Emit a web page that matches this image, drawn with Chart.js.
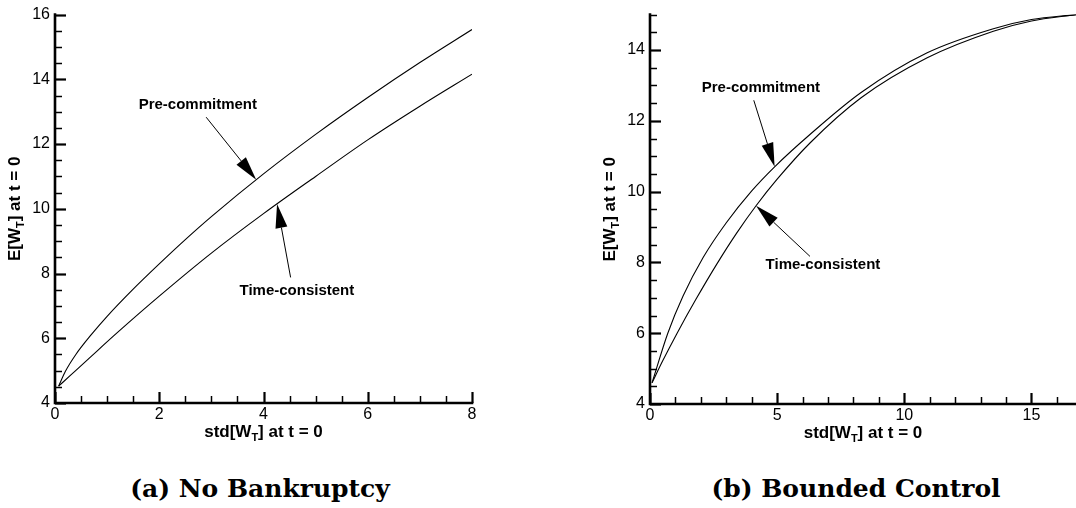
<!DOCTYPE html>
<html>
<head>
<meta charset="utf-8">
<script src="https://cdn.jsdelivr.net/npm/chart.js@4.4.1/dist/chart.umd.min.js"></script>
<style>
  body { margin: 0; background: #fff; width: 1076px; height: 508px; overflow: hidden; position: relative; }
  canvas { position: absolute; top: 0; }
  #chartA { left: 0; }
  #chartB { left: 595px; }
  .caption { position: absolute; top: 474px; width: 440px; text-align: center; font: bold 25px "DejaVu Serif", serif; color: #000; }
</style>
</head>
<body>
<canvas id="chartA" width="540" height="445"></canvas>
<canvas id="chartB" width="481" height="445"></canvas>
<div class="caption" style="left:40px">(a) No Bankruptcy</div>
<div class="caption" style="left:636px">(b) Bounded Control</div>

<script>
// (a) no bankruptcy: std[W_T] vs E[W_T]
var stdPreA  = [0.07, 0.2, 0.4, 0.7, 1.0, 1.5, 2.0, 2.5, 3.0, 4.0, 5.0, 6.0, 7.0, 8.0];
var meanPreA = [4.52, 4.98, 5.5, 6.12, 6.68, 7.52, 8.3, 9.05, 9.76, 11.08, 12.3, 13.44, 14.52, 15.54];
var stdTcA   = [0.07, 0.3, 0.7, 1.2, 2.0, 3.0, 4.0, 5.0, 6.0, 7.0, 8.0];
var meanTcA  = [4.52, 4.86, 5.45, 6.18, 7.3, 8.63, 9.85, 11.0, 12.13, 13.17, 14.16];

// (b) bounded control
var stdPreB  = [0.08, 0.7, 1.3, 2.1, 3.0, 4.0, 4.9, 6.3, 8.3, 10.9, 13.5, 15.0, 16.75];
var meanPreB = [4.6, 6.0, 7.05, 8.15, 9.12, 10.02, 10.7, 11.62, 12.8, 13.92, 14.6, 14.86, 15.0];
var stdTcB   = [0.08, 0.5, 1.05, 1.8, 2.65, 3.4, 4.17, 5.0, 6.3, 8.3, 10.9, 13.5, 15.0, 16.75];
var meanTcB  = [4.6, 5.22, 5.98, 6.95, 7.98, 8.82, 9.6, 10.35, 11.38, 12.65, 13.78, 14.53, 14.82, 15.0];

// tick labels
var xTicksA = [0, 2, 4, 6, 8];
var yTicksA = [4, 6, 8, 10, 12, 14, 16];
var xTicksB = [0, 5, 10, 15];
var yTicksB = [4, 6, 8, 10, 12, 14];

var seriesNames = ["Pre-commitment", "Time-consistent"];

var tickFont = { family: "'Liberation Sans', Arial, sans-serif", size: 16 };

function toPoints(xs, ys) {
    return xs.map(function (x, i) { return { x: x, y: ys[i] }; });
}

// text with a subscript piece, e.g. E[W_T]
function drawRich(ctx, parts, cx, cy, rot) {
    var big = "bold 17px 'Liberation Sans', Arial, sans-serif";
    var small = "bold 11px 'Liberation Sans', Arial, sans-serif";
    ctx.save();
    ctx.translate(cx, cy);
    ctx.rotate(rot);
    var w = 0;
    parts.forEach(function (p) { ctx.font = p[1] ? small : big; w += ctx.measureText(p[0]).width; });
    var x = -w / 2;
    ctx.fillStyle = "#000";
    ctx.textBaseline = "middle";
    ctx.textAlign = "left";
    parts.forEach(function (p) {
        ctx.font = p[1] ? small : big;
        ctx.fillText(p[0], x, p[1] ? 6 : 0);
        x += ctx.measureText(p[0]).width;
    });
    ctx.restore();
}

// axis lines plus inward major/minor ticks and the axis titles
var frame = {
    id: "frame",
    afterDraw: function (chart) {
        var o = chart.options.plugins.frame;
        var ctx = chart.ctx, a = chart.chartArea, xs = chart.scales.x, ys = chart.scales.y;
        var xMajor = o.xMajor.slice(), yMajor = o.yMajor.slice();
        ctx.save();
        ctx.strokeStyle = "#000";
        ctx.lineCap = "butt";
        var v, px, maj;
        for (v = xs.min; v <= xs.max + 1e-9; v += o.xMinor) {
            px = Math.round(xs.getPixelForValue(v)) + 0.5;
            maj = xMajor.indexOf(Math.round(v * 100) / 100) >= 0;
            ctx.lineWidth = maj ? 2.2 : 1.5;
            ctx.beginPath();
            ctx.moveTo(px, a.bottom);
            ctx.lineTo(px, a.bottom - (maj ? 11 : 7));
            ctx.stroke();
        }
        for (v = ys.min; v <= ys.max + 1e-9; v += o.yMinor) {
            px = Math.round(ys.getPixelForValue(v)) + 0.5;
            maj = yMajor.indexOf(Math.round(v * 100) / 100) >= 0;
            ctx.lineWidth = maj ? 2.2 : 1.5;
            ctx.beginPath();
            ctx.moveTo(a.left, px);
            ctx.lineTo(a.left + (maj ? 11 : 7), px);
            ctx.stroke();
        }
        ctx.lineWidth = 2.6;
        ctx.lineCap = "square";
        ctx.beginPath();
        ctx.moveTo(a.left, a.top);
        ctx.lineTo(a.left, a.bottom);
        ctx.lineTo(a.right, a.bottom);
        ctx.stroke();
        ctx.restore();

        drawRich(ctx, [["std[W", false], ["T", true], ["] at t = 0", false]],
            (a.left + a.right) / 2, a.bottom + 29, 0);
        drawRich(ctx, [["E[W", false], ["T", true], ["] at t = 0", false]],
            15, (a.top + a.bottom) / 2, -Math.PI / 2);
    }
};

// labelled arrows pointing at the curves
var callouts = {
    id: "callouts",
    afterDatasetsDraw: function (chart) {
        var list = chart.options.plugins.callouts.items;
        var ctx = chart.ctx, xs = chart.scales.x, ys = chart.scales.y;
        ctx.save();
        list.forEach(function (c) {
            var tx = xs.getPixelForValue(c.tail[0]), ty = ys.getPixelForValue(c.tail[1]);
            var hx = xs.getPixelForValue(c.tip[0]), hy = ys.getPixelForValue(c.tip[1]);
            var dx = hx - tx, dy = hy - ty, len = Math.sqrt(dx * dx + dy * dy);
            var ux = dx / len, uy = dy / len, L = 24, W = 6;
            ctx.strokeStyle = "#000";
            ctx.fillStyle = "#000";
            ctx.lineWidth = 1;
            ctx.beginPath();
            ctx.moveTo(tx, ty);
            ctx.lineTo(hx - ux * L, hy - uy * L);
            ctx.stroke();
            ctx.beginPath();
            ctx.moveTo(hx, hy);
            ctx.lineTo(hx - ux * L - uy * W, hy - uy * L + ux * W);
            ctx.lineTo(hx - ux * L + uy * W, hy - uy * L - ux * W);
            ctx.closePath();
            ctx.fill();

            ctx.font = "bold 15px 'Liberation Sans', Arial, sans-serif";
            ctx.textAlign = "center";
            ctx.textBaseline = "middle";
            ctx.fillText(c.text, xs.getPixelForValue(c.at[0]), ys.getPixelForValue(c.at[1]));
        });
        ctx.restore();
    }
};

function makeChart(id, cfg) {
    var canvas = document.getElementById(id).getContext("2d");
    return new Chart(canvas, {
        type: "scatter",
        data: {
            datasets: [
                { label: seriesNames[0], data: toPoints(cfg.preX, cfg.preY) },
                { label: seriesNames[1], data: toPoints(cfg.tcX, cfg.tcY) }
            ]
        },
        options: {
            responsive: false,
            animation: false,
            showLine: true,
            layout: { padding: { top: 11, right: cfg.padRight, left: 0, bottom: 0 } },
            elements: {
                point: { radius: 0, hoverRadius: 0 },
                line: { borderColor: "#000", borderWidth: 1.1, cubicInterpolationMode: "monotone", fill: false }
            },
            plugins: {
                legend: { display: false },
                tooltip: { enabled: false },
                frame: { xMinor: cfg.xMinor, yMinor: 0.5, xMajor: cfg.xTicks, yMajor: cfg.yTicks },
                callouts: { items: cfg.callouts }
            },
            scales: {
                x: {
                    type: "linear", min: 0, max: cfg.xMax,
                    grid: { display: false, drawTicks: false },
                    border: { display: false },
                    ticks: { color: "#000", font: tickFont, padding: 2, maxRotation: 0 },
                    afterBuildTicks: function (s) { s.ticks = cfg.xTicks.map(function (v) { return { value: v }; }); },
                    afterFit: function (s) { s.height = 445 - cfg.bottom; }
                },
                y: {
                    type: "linear", min: 4, max: cfg.yMax,
                    grid: { display: false, drawTicks: false },
                    border: { display: false },
                    ticks: { color: "#000", font: tickFont, padding: 5 },
                    afterBuildTicks: function (s) { s.ticks = cfg.yTicks.map(function (v) { return { value: v }; }); },
                    afterFit: function (s) { s.width = 55; }
                }
            }
        },
        plugins: [frame, callouts]
    });
}

makeChart("chartA", {
    preX: stdPreA, preY: meanPreA, tcX: stdTcA, tcY: meanTcA,
    xTicks: xTicksA, yTicks: yTicksA, xMinor: 0.5,
    xMax: 8, yMax: 16, padRight: 68, bottom: 403,
    callouts: [
        { text: "Pre-commitment", at: [2.74, 13.21], tail: [2.9, 12.83], tip: [3.86, 10.9] },
        { text: "Time-consistent", at: [4.64, 7.48], tail: [4.52, 7.88], tip: [4.26, 10.15] }
    ]
});

makeChart("chartB", {
    preX: stdPreB, preY: meanPreB, tcX: stdTcB, tcY: meanTcB,
    xTicks: xTicksB, yTicks: yTicksB, xMinor: 1,
    xMax: 16.75, yMax: 15, padRight: 0, bottom: 404,
    callouts: [
        { text: "Pre-commitment", at: [4.36, 12.92], tail: [4.08, 12.58], tip: [4.9, 10.7] },
        { text: "Time-consistent", at: [6.8, 7.94], tail: [6.29, 8.17], tip: [4.17, 9.6] }
    ]
});
</script>
</body>
</html>
